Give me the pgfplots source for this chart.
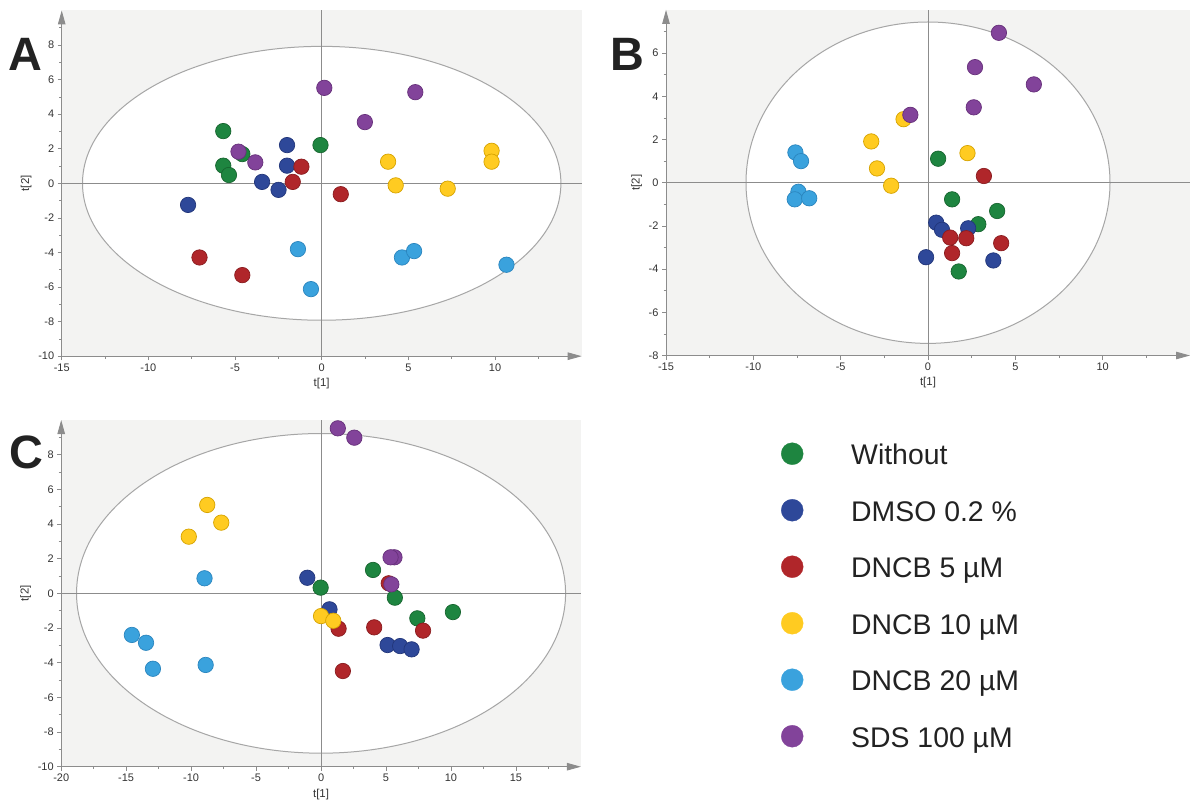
\documentclass[border=0pt]{standalone}
\usepackage{fontspec}
\setmainfont{Liberation Sans}
\usepackage{pgfplots}
\pgfplotsset{compat=1.18}
\usetikzlibrary{arrows.meta}
\definecolor{cGreen}{HTML}{1E8540}
\definecolor{cGreenD}{HTML}{17652F}
\definecolor{cBlue}{HTML}{2E4899}
\definecolor{cBlueD}{HTML}{22367A}
\definecolor{cRed}{HTML}{B0262A}
\definecolor{cRedD}{HTML}{8A1C1F}
\definecolor{cYellow}{HTML}{FFCB21}
\definecolor{cYellowD}{HTML}{D6A300}
\definecolor{cLBlue}{HTML}{3AA2DD}
\definecolor{cLBlueD}{HTML}{2A85BE}
\definecolor{cPurple}{HTML}{82439A}
\definecolor{cPurpleD}{HTML}{66307A}
\definecolor{bggray}{HTML}{F3F3F2}
\definecolor{axgray}{HTML}{8C8C8C}
\definecolor{ellgray}{HTML}{A6A6A6}
\definecolor{labgray}{HTML}{333333}
\definecolor{textdark}{HTML}{222222}
\tikzset{ell/.style={draw=ellgray, line width=1bp, fill=white}}
\pgfplotsset{
  pca/.style={
    scale only axis,
    axis lines=left,
    axis line style={draw=axgray, line width=0.9bp, -{Triangle[length=14bp,width=7.5bp]}},
    every outer x axis line/.append style={-{Triangle[length=14bp,width=7.5bp]}},
    every outer y axis line/.append style={-{Triangle[length=14bp,width=7.5bp]}},
    tick align=outside, tick pos=left,
    major tick length=4bp, minor tick length=2.5bp,
    tick style={draw=axgray, line width=0.7bp},
    axis background/.style={fill=bggray},
    tick label style={font=\fontsize{11}{13}\selectfont, text=labgray},
    label style={font=\fontsize{11.5}{13}\selectfont, text=labgray},
    /pgf/number format/assume math mode=true,
    xlabel={t[1]}, ylabel={t[2]},
    enlargelimits=false, clip=false,
  },
  grp/.style 2 args={only marks, mark=*, mark size=7.7bp,
    mark options={fill=#1, draw=#2, line width=0.7bp},
    legend image post style={mark size=11bp, yshift=4bp, mark options={fill=#1, draw=#1, line width=0.3bp}}},
  zl/.style={draw=axgray, line width=0.9bp, no marks, forget plot},
}
\begin{document}
\begin{tikzpicture}
\useasboundingbox (0,0) rectangle (1192bp,-806bp);
% Panel letters
\node[anchor=base, font=\fontsize{47}{50}\selectfont\bfseries, text=textdark] at (25bp,-70bp) {A};
\node[anchor=base, font=\fontsize{47}{50}\selectfont\bfseries, text=textdark] at (627bp,-70bp) {B};
\node[anchor=base, font=\fontsize{47}{50}\selectfont\bfseries, text=textdark] at (26bp,-468bp) {C};

% ---------------- A ----------------
\begin{axis}[pca, at={(61.7bp,-356.2bp)}, anchor=south west, width=520bp, height=345.8bp,
  xmin=-15, xmax=15, ymin=-10, ymax=10,
  xtick={-15,-10,...,10}, ytick={-10,-8,...,8},
  minor xtick={-12.5,-7.5,...,12.5}, minor ytick={-9,-7,...,9}]
\draw[ell] (axis cs:0,0) ellipse [x radius=13.8, y radius=7.92];
\addplot[zl] coordinates {(-15,0) (15,0)};
\addplot[zl] coordinates {(0,-10) (0,10)};
\addplot[grp={cGreen}{cGreenD}] coordinates {(-5.68,3.02) (-4.58,1.69) (-5.68,1.02) (-5.35,0.48) (-0.07,2.21)};
\addplot[grp={cBlue}{cBlueD}] coordinates {(-7.71,-1.25) (-2.0,2.21) (-2.0,1.02) (-3.44,0.08) (-2.49,-0.38)};
\addplot[grp={cRed}{cRedD}] coordinates {(-1.17,0.96) (-1.67,0.08) (1.10,-0.63) (-7.05,-4.29) (-4.58,-5.31)};
\addplot[grp={cYellow}{cYellowD}] coordinates {(3.83,1.25) (4.27,-0.12) (7.27,-0.31) (9.80,1.88) (9.80,1.25)};
\addplot[grp={cLBlue}{cLBlueD}] coordinates {(-1.37,-3.81) (-0.62,-6.12) (4.63,-4.29) (5.33,-3.92) (10.66,-4.71)};
\addplot[grp={cPurple}{cPurpleD}] coordinates {(0.15,5.52) (5.40,5.27) (2.49,3.54) (-4.80,1.83) (-3.83,1.21)};
\end{axis}

% ---------------- B ----------------
\begin{axis}[pca, at={(666bp,-355.5bp)}, anchor=south west, width=524bp, height=345.6bp,
  xmin=-15, xmax=15, ymin=-8, ymax=8,
  xtick={-15,-10,...,10}, ytick={-8,-6,...,6},
  minor xtick={-12.5,-7.5,...,12.5}, minor ytick={-7,-5,...,7}]
\draw[ell] (axis cs:0,0) ellipse [x radius=10.42, y radius=7.44];
\addplot[zl] coordinates {(-15,0) (15,0)};
\addplot[zl] coordinates {(0,-8) (0,8)};
\addplot[grp={cGreen}{cGreenD}] coordinates {(0.58,1.11) (1.38,-0.77) (3.96,-1.31) (2.88,-1.92) (1.76,-4.11)};
\addplot[grp={cBlue}{cBlueD}] coordinates {(0.47,-1.85) (0.80,-2.18) (2.30,-2.11) (-0.11,-3.45) (3.74,-3.60)};
\addplot[grp={cRed}{cRedD}] coordinates {(3.20,0.31) (1.27,-2.54) (2.19,-2.57) (1.38,-3.26) (4.19,-2.80)};
\addplot[grp={cYellow}{cYellowD}] coordinates {(-1.40,2.94) (-3.25,1.91) (-2.92,0.66) (-2.11,-0.14) (2.26,1.37)};
\addplot[grp={cLBlue}{cLBlueD}] coordinates {(-7.59,1.40) (-7.27,1.00) (-7.42,-0.42) (-7.63,-0.77) (-6.80,-0.72)};
\addplot[grp={cPurple}{cPurpleD}] coordinates {(4.06,6.94) (2.69,5.35) (6.06,4.55) (2.62,3.49) (-1.01,3.14)};
\end{axis}

% ---------------- C ----------------
\begin{axis}[pca, at={(61.2bp,-766.7bp)}, anchor=south west, width=519.7bp, height=346.7bp,
  xmin=-20, xmax=20, ymin=-10, ymax=10,
  xtick={-20,-15,...,15}, ytick={-10,-8,...,8},
  minor xtick={-17.5,-12.5,...,17.5}, minor ytick={-9,-7,...,9},
  legend cell align=left,
  legend style={at={(1.3851,0.9351)}, anchor=north west, draw=none, fill=none,
    font=\fontsize{28.5}{31}\selectfont, text=textdark,
    row sep=28.2bp, column sep=48bp, inner sep=0pt,
    nodes={inner sep=0pt, text height=20.5bp, text depth=6.1bp}}]
\draw[ell] (axis cs:0,0) ellipse [x radius=18.82, y radius=9.22];
\addplot[zl] coordinates {(-20,0) (20,0)};
\addplot[zl] coordinates {(0,-10) (0,10)};
\addplot[grp={cGreen}{cGreenD}] coordinates {(-0.03,0.33) (4.0,1.35) (5.68,-0.25) (7.41,-1.44) (10.15,-1.08)};
\addlegendentry{Without}
\addplot[grp={cBlue}{cBlueD}] coordinates {(-1.06,0.90) (0.65,-0.92) (5.12,-2.98) (6.09,-3.04) (6.97,-3.23)};
\addlegendentry{DMSO 0.2 \%}
\addplot[grp={cRed}{cRedD}] coordinates {(5.21,0.58) (1.35,-2.04) (4.09,-1.96) (7.85,-2.15) (1.68,-4.48)};
\addlegendentry{DNCB 5 µM}
\addplot[grp={cYellow}{cYellowD}] coordinates {(-8.76,5.10) (-7.68,4.08) (-10.18,3.27) (0,-1.31) (0.94,-1.58)};
\addlegendentry{DNCB 10 µM}
\addplot[grp={cLBlue}{cLBlueD}] coordinates {(-8.97,0.87) (-14.56,-2.40) (-13.47,-2.85) (-12.94,-4.35) (-8.88,-4.13)};
\addlegendentry{DNCB 20 µM}
\addplot[grp={cPurple}{cPurpleD}] coordinates {(1.29,9.52) (2.56,8.98) (5.65,2.08) (5.35,2.08) (5.41,0.52)};
\addlegendentry{SDS 100 µM}
\end{axis}
\end{tikzpicture}
\end{document}
